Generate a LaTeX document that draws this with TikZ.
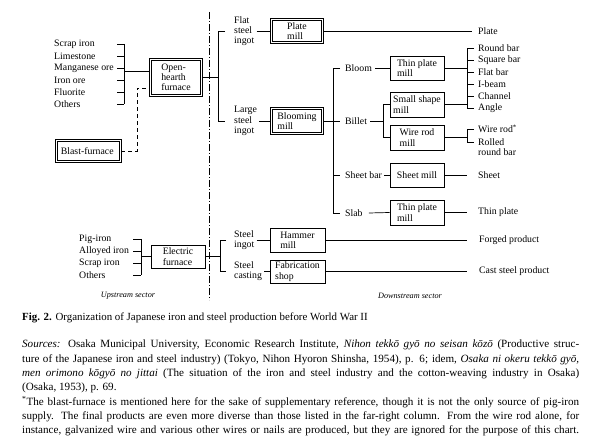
\documentclass[tikz,border=0pt]{standalone}
\usepackage{fontspec}
\setmainfont{Liberation Serif}
\newcommand{\diagfont}{\fontsize{9.8}{10.3}\selectfont}
\newcommand{\notefont}{\fontsize{11.1}{14.3}\selectfont}
\newcommand{\fullline}[1]{\makebox[557pt][s]{#1}}
\tikzset{
    millBox/.style={
        draw, line width=0.7pt,
        minimum width=54pt, minimum height=24pt,
        inner sep=1pt, align=left, font=\diagfont
    },
    dblBox/.style={
        millBox, line width=0.6pt, double, double distance=1.4pt
    },
    itemLabel/.style={
        inner sep=0pt, anchor=west, align=left, font=\diagfont
    },
    sectorLabel/.style={
        inner sep=0pt, font=\fontsize{8.2}{9}\selectfont\itshape
    },
    linkLine/.style={line width=0.7pt},
    feedLine/.style={line width=0.7pt, dash pattern=on 4pt off 3pt},
    sectorLine/.style={line width=0.6pt, dash pattern=on 7pt off 2pt on 1pt off 2pt}
}

\begin{document}
\begin{tikzpicture}[x=1pt, y=-1pt]

	\useasboundingbox (0,0) rectangle (602,443);

	% =========================================================
	% Upstream: open-hearth furnace
	% =========================================================

	\foreach \t [count=\i] in {Scrap iron, Limestone, Manganese ore, Iron ore, Fluorite, Others}
		\node [itemLabel] (oh\i) at (54, 32+12*\i) {\t};

	\node [dblBox, minimum width=51.4pt, minimum height=36.4pt] (openhearth) at (176,77.5) {
		Open-\\hearth\\furnace
	};

	\node [dblBox, minimum width=64.4pt, minimum height=21.4pt] (blast) at (88.5,151) {
		Blast-furnace
	};

	\coordinate (ohtk) at (117,0);
	\coordinate (ohsp) at (124,0);
	\coordinate (ohfeed) at ([yshift=6.5pt]openhearth.west);
	\foreach \i in {1,...,6} {
			\draw [linkLine] (oh\i.east -| ohtk) -- (oh\i.east -| ohsp);
		}
	\draw [linkLine] (oh1.east -| ohsp) -- (oh6.east -| ohsp);
	\draw [linkLine] (ohfeed -| ohsp) -- (ohfeed);

	\coordinate (bfsp) at (137,0);
	\coordinate (ohdash) at ([yshift=-10.5pt]openhearth.west);
	\draw [feedLine] (blast.east) -- (blast.east -| bfsp) -- (ohdash -| bfsp) -- (ohdash);

	% =========================================================
	% Downstream: ingots and mills
	% =========================================================

	\node [itemLabel] (flat) at (234,31) {Flat\\steel\\ingot};
	\node [itemLabel] (large) at (234,121) {Large\\steel\\ingot};

	\coordinate (ohout) at (218,0);
	\draw [linkLine] (openhearth.east) -- (openhearth.east -| ohout);
	\draw [linkLine] ([xshift=-9pt]flat.west) -| (large.west -| ohout) -- ([xshift=-9pt]large.west);

	\node [dblBox, minimum width=51.4pt, minimum height=23.4pt] (platemill) at (297,31) {
		Plate\\mill
	};
	\node [dblBox, minimum width=51.4pt, minimum height=25.4pt] (blooming) at (297,121) {
		Blooming\\mill
	};

	\draw [linkLine] ([xshift=2pt]flat.east) -- (platemill.west);
	\draw [linkLine] ([xshift=2pt]large.east) -- (blooming.west);

	\node [itemLabel] (bloom) at (345,68) {Bloom};
	\node [itemLabel] (billet) at (345,121) {Billet};
	\node [itemLabel] (sheetbar) at (345,175) {Sheet bar};
	\node [itemLabel] (slab) at (345,213) {Slab};

	\draw [linkLine] (blooming.east) -- ([xshift=-5pt]billet.west);
	\draw [linkLine] ([xshift=-5pt]bloom.west) -| ([xshift=-12pt]slab.west) -- ([xshift=-5pt]slab.west);
	\draw [linkLine] ([xshift=-12pt]sheetbar.west) -- ([xshift=-5pt]sheetbar.west);

	\node [millBox] (thinplateA) at (417,68) {Thin plate\\mill};
	\node [millBox, minimum height=25pt] (smallshape) at (417,104.5) {Small shape\\mill};
	\node [millBox, minimum height=25pt] (wirerod) at (417,137.5) {Wire rod\\mill};
	\node [millBox] (sheetmill) at (417,175) {Sheet mill};
	\node [millBox, minimum height=25pt] (thinplateB) at (417,212.5) {Thin plate\\mill};

	\coordinate (bisp) at (383,0);
	\draw [linkLine] ([xshift=3pt]bloom.east) -- (thinplateA.west);
	\draw [linkLine] ([xshift=3pt]billet.east) -- (billet.east -| bisp);
	\draw [linkLine] (smallshape.west) -| (wirerod.west -| bisp) -- (wirerod.west);
	\draw [linkLine] ([xshift=2pt]sheetbar.east) -- (sheetmill.west);
	\draw [linkLine] ([xshift=6pt]slab.east) -- (thinplateB.west);

	% =========================================================
	% Final products
	% =========================================================

	\node [itemLabel] (plate) at (478,31) {Plate};
	\coordinate (plateend) at (472,0);
	\draw [linkLine] (platemill.east) -- (platemill.east -| plateend);

	\foreach \t [count=\i] in {Round bar, Square bar, Flat bar, I-beam, Channel, Angle}
		\node [itemLabel] (pr\i) at (478, 36+12*\i) {\t};

	\coordinate (prsp) at (467,0);
	\coordinate (prtk) at (474,0);
	\draw [linkLine] (pr1.west -| prtk) -| (pr6.west -| prsp) -- (pr6.west -| prtk);
	\foreach \i in {2,...,5} {
			\draw [linkLine] (pr\i.west -| prsp) -- (pr\i.west -| prtk);
		}
	\draw [linkLine] (thinplateA.east) -- (thinplateA.east -| prsp);
	\draw [linkLine] (smallshape.east) -- (smallshape.east -| prsp);

	\node [itemLabel] (wirerodp) at (478,129) {Wire rod\textsuperscript{*}};
	\node [itemLabel] (rolled) at (478,147) {Rolled\\round bar};
	\coordinate (rolledtop) at ([yshift=5pt]rolled.west);
	\draw [linkLine] (wirerodp.west -| prtk) -| (rolledtop -| prsp) -- (rolledtop -| prtk);
	\draw [linkLine] (wirerod.east) -- (wirerod.east -| prsp);

	\node [itemLabel] (sheet) at (478,175) {Sheet};
	\node [itemLabel] (thinplate) at (478,212.5) {Thin plate};
	\draw [linkLine] (sheetmill.east) -- (sheetmill.east -| prsp);
	\draw [linkLine] (thinplateB.east) -- (thinplateB.east -| prsp);

	% =========================================================
	% Electric furnace branch
	% =========================================================

	\foreach \t [count=\i] in {Pig-iron, Alloyed iron, Scrap iron, Others}
		\node [itemLabel] (ef\i) at (79, 227+12*\i) {\t};

	\coordinate (eftk) at (133,0);
	\coordinate (efsp) at (141,0);
	\foreach \i in {1,...,4} {
			\draw [linkLine] (ef\i.east -| eftk) -- (ef\i.east -| efsp);
		}
	\draw [linkLine] (ef1.east -| efsp) -- (ef4.east -| efsp);

	\node [millBox, minimum height=23pt] (electric) at (178,256.5) {Electric\\furnace};
	\draw [linkLine] (electric.west -| efsp) -- (electric.west);

	\node [itemLabel] (ingot) at (234,240) {Steel\\ingot};
	\node [itemLabel] (casting) at (234,271.5) {Steel\\casting};

	\coordinate (efout) at (220,0);
	\draw [linkLine] (electric.east) -- (electric.east -| efout);
	\draw [linkLine] ([xshift=-8pt]ingot.west) -| (casting.west -| efout) -- ([xshift=-8pt]casting.west);

	\node [millBox, minimum width=55pt] (hammer) at (297.5,240) {Hammer\\mill};
	\node [millBox, minimum width=55pt, minimum height=23pt] (fabrication) at (297.5,271.5) {Fabrication\\shop};
	\draw [linkLine] ([xshift=2pt]ingot.east) -- (hammer.west);
	\draw [linkLine] ([xshift=2pt]casting.east) -- (fabrication.west);

	\node [itemLabel] (forged) at (479,240) {Forged product};
	\node [itemLabel] (caststeel) at (479,271.5) {Cast steel product};
	\draw [linkLine] (hammer.east) -- (hammer.east -| prsp);
	\draw [linkLine] (fabrication.east) -- (fabrication.east -| prsp);

	% =========================================================
	% Sector divider
	% =========================================================

	\draw [sectorLine] (209,12) -- (209,300);
	\node [sectorLabel] (upstream) at (128,296) {Upstream sector};
	\node [sectorLabel] (downstream) at (410,296) {Downstream sector};

	% =========================================================
	% Caption and notes
	% =========================================================

	\node [anchor=west, inner sep=0pt, font=\fontsize{10.9}{12}\selectfont] (caption) at (22,318) {
		\textbf{Fig. 2.} Organization of Japanese iron and steel production before World War II
	};

	\node [anchor=north west, inner sep=0pt, align=left, font=\notefont] (notes) at (22,340) {
		\fullline{\textit{Sources:} Osaka Municipal University, Economic Research Institute, \textit{Nihon tekkō gyō no seisan kōzō} (Productive struc-}\\
		\fullline{ture of the Japanese iron and steel industry) (Tokyo, Nihon Hyoron Shinsha, 1954), p. 6; idem, \textit{Osaka ni okeru tekkō gyō,}}\\
		\fullline{\textit{men orimono kōgyō no jittai} (The situation of the iron and steel industry and the cotton-weaving industry in Osaka)}\\
		(Osaka, 1953), p. 69.\\
		\fullline{\textsuperscript{*}The blast-furnace is mentioned here for the sake of supplementary reference, though it is not the only source of pig-iron}\\
		\fullline{supply. The final products are even more diverse than those listed in the far-right column. From the wire rod alone, for}\\
		\fullline{instance, galvanized wire and various other wires or nails are produced, but they are ignored for the purpose of this chart.}
	};

\end{tikzpicture}
\end{document}
